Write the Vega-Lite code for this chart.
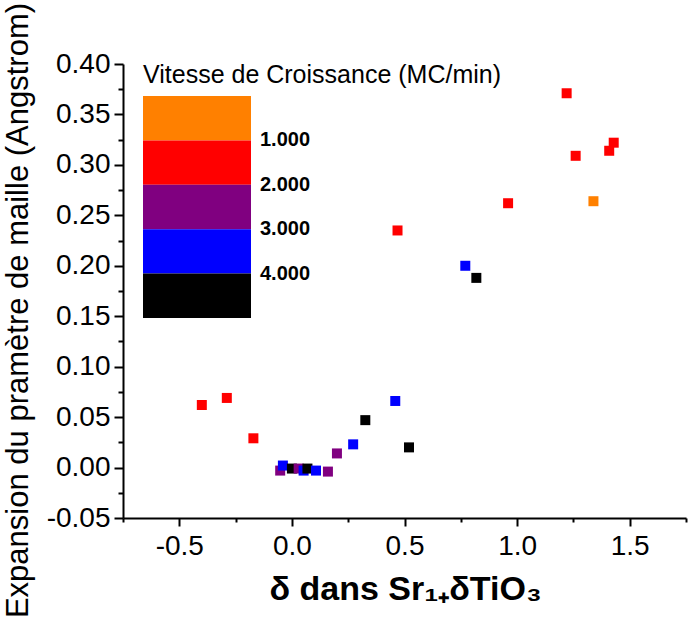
{
  "$schema": "https://vega.github.io/schema/vega-lite/v6.json",
  "width": 563,
  "height": 454,
  "autosize": {"type": "none"},
  "padding": {"left": 123, "top": 64, "right": 5, "bottom": 101},
  "background": "white",
  "title": {
    "text": "Vitesse de Croissance (MC/min)",
    "anchor": "start",
    "frame": "group",
    "orient": "top",
    "font": "Liberation Sans",
    "fontSize": 25,
    "fontWeight": "normal",
    "color": "black",
    "baseline": "alphabetic",
    "offset": 0,
    "dx": 20,
    "dy": 106,
    "limit": 0
  },
  "config": {
    "view": {"stroke": null},
    "font": "Liberation Sans",
    "axis": {
      "labelFont": "Liberation Sans",
      "titleFont": "Liberation Sans",
      "labelColor": "black",
      "titleColor": "black",
      "domainColor": "black",
      "domainWidth": 2,
      "tickColor": "black",
      "tickWidth": 2,
      "grid": false,
      "labelFontSize": 28,
      "labelOverlap": false,
      "labelFlush": false
    }
  },
  "data": {
    "values": [
      {"delta": 1.220, "expansion": 0.371, "vitesse": 1.5},
      {"delta": 1.429, "expansion": 0.322, "vitesse": 1.5},
      {"delta": 1.409, "expansion": 0.314, "vitesse": 1.5},
      {"delta": 1.260, "expansion": 0.309, "vitesse": 1.5},
      {"delta": 1.339, "expansion": 0.264, "vitesse": 0.5},
      {"delta": 0.960, "expansion": 0.262, "vitesse": 1.5},
      {"delta": 0.469, "expansion": 0.235, "vitesse": 1.5},
      {"delta": 0.770, "expansion": 0.200, "vitesse": 3.5},
      {"delta": 0.819, "expansion": 0.188, "vitesse": 4.5},
      {"delta": -0.400, "expansion": 0.062, "vitesse": 1.5},
      {"delta": -0.289, "expansion": 0.069, "vitesse": 1.5},
      {"delta": -0.171, "expansion": 0.029, "vitesse": 1.5},
      {"delta": 0.459, "expansion": 0.066, "vitesse": 3.5},
      {"delta": 0.326, "expansion": 0.047, "vitesse": 4.5},
      {"delta": 0.200, "expansion": 0.014, "vitesse": 2.5},
      {"delta": 0.272, "expansion": 0.023, "vitesse": 3.5},
      {"delta": 0.520, "expansion": 0.020, "vitesse": 4.5},
      {"delta": -0.052, "expansion": -0.003, "vitesse": 2.5},
      {"delta": -0.040, "expansion": 0.002, "vitesse": 3.5},
      {"delta": 0.000, "expansion": -0.001, "vitesse": 4.5},
      {"delta": 0.030, "expansion": -0.001, "vitesse": 2.5},
      {"delta": 0.052, "expansion": -0.003, "vitesse": 3.5},
      {"delta": 0.069, "expansion": -0.001, "vitesse": 4.5},
      {"delta": 0.107, "expansion": -0.003, "vitesse": 3.5},
      {"delta": 0.160, "expansion": -0.004, "vitesse": 2.5}
    ]
  },
  "mark": {"type": "point", "shape": "square", "filled": true, "size": 100, "opacity": 1, "strokeWidth": 0},
  "encoding": {
    "x": {
      "field": "delta",
      "type": "quantitative",
      "scale": {"domain": [-0.75, 1.75], "nice": false, "zero": false},
      "axis": {
        "values": [-0.75, -0.5, -0.25, 0, 0.25, 0.5, 0.75, 1, 1.25, 1.5, 1.75],
        "labelExpr": "abs(datum.value*2 - round(datum.value*2)) < 0.001 ? replace(format(datum.value, '.1f'), '\u2212', '-') : ''",
        "tickSize": {"condition": {"test": "abs(datum.value*2 - round(datum.value*2)) < 0.001", "value": 8}, "value": 4},
        "labelPadding": 6,
        "title": "δ dans Sr₁₊δTiO₃",
        "titleFontSize": 34,
        "titleFontWeight": "bold",
        "titleBaseline": "alphabetic",
        "titleAlign": "center",
        "titleX": 282,
        "titleY": 81
      }
    },
    "y": {
      "field": "expansion",
      "type": "quantitative",
      "scale": {"domain": [-0.05, 0.40], "nice": false, "zero": false},
      "axis": {
        "values": [-0.05, -0.025, 0, 0.025, 0.05, 0.075, 0.1, 0.125, 0.15, 0.175, 0.2, 0.225, 0.25, 0.275, 0.3, 0.325, 0.35, 0.375, 0.4],
        "labelExpr": "abs(datum.value*20 - round(datum.value*20)) < 0.001 ? replace(format(datum.value, '.2f'), '\u2212', '-') : ''",
        "tickSize": {"condition": {"test": "abs(datum.value*20 - round(datum.value*20)) < 0.001", "value": 9}, "value": 5},
        "labelPadding": 4,
        "title": "Expansion du pramètre de maille (Angstrom)",
        "titleFontSize": 31,
        "titleFontWeight": "normal",
        "titleAngle": 270,
        "titleBaseline": "alphabetic",
        "titleAlign": "center",
        "titleX": -96,
        "titleY": 246
      }
    },
    "color": {
      "field": "vitesse",
      "type": "quantitative",
      "scale": {"type": "quantize", "domain": [0, 5], "range": ["#FF8000", "#FF0000", "#800080", "#0000FF", "#000000"], "nice": false},
      "legend": {
        "type": "gradient",
        "orient": "none",
        "legendX": 20,
        "legendY": 254,
        "direction": "vertical",
        "title": null,
        "gradientLength": -222,
        "gradientThickness": 108,
        "gradientStrokeWidth": 0,
        "labelFont": "Liberation Sans",
        "labelFontSize": 20,
        "labelFontWeight": "bold",
        "labelColor": "black",
        "labelOffset": 9,
        "labelOverlap": false,
        "labelLimit": 0,
        "format": ".3f"
      }
    }
  }
}
